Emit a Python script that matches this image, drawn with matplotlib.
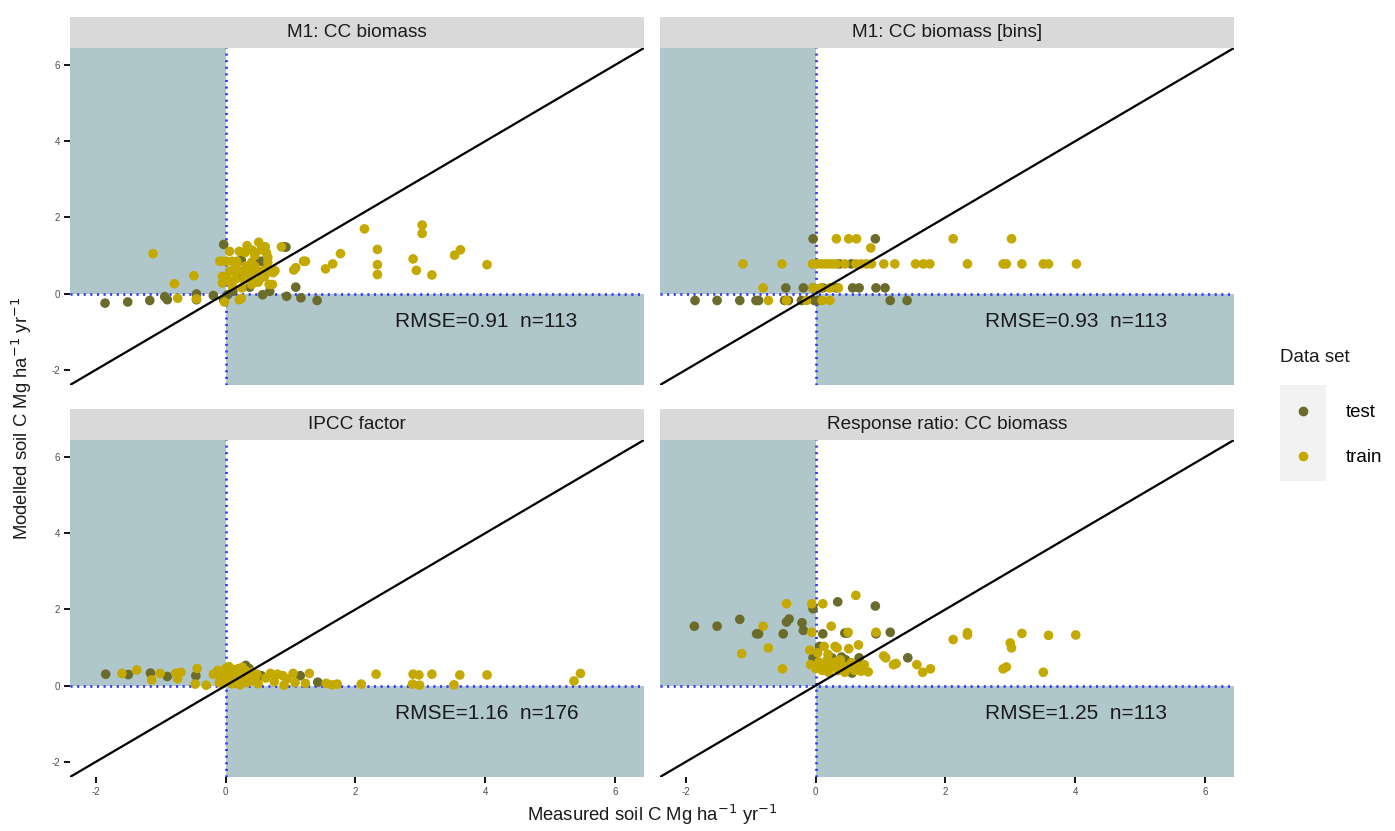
import matplotlib
matplotlib.use("Agg")
import matplotlib.pyplot as plt
from matplotlib.patches import Rectangle
from matplotlib.lines import Line2D

plt.rcParams['font.family'] = ['Liberation Sans', 'DejaVu Sans']
plt.rcParams['axes.unicode_minus'] = False

# ---- data -------------------------------------------------------------
titles = ["M1: CC biomass", "M1: CC biomass [bins]",
          "IPCC factor", "Response ratio: CC biomass"]
stats = ["RMSE=0.91  n=113", "RMSE=0.93  n=113",
         "RMSE=1.16  n=176", "RMSE=1.25  n=113"]

# M1: CC biomass
p1_test = [(-1.86, -0.25), (-1.51, -0.22), (-1.17, -0.18), (-0.90, -0.16), (-0.94, -0.08),
           (-0.45, -0.01), (-0.45, -0.16), (-0.19, -0.05), (-0.03, 1.29), (-0.03, -0.16),
           (0.11, 0.06), (0.03, -0.03), (0.24, 0.88), (0.50, 0.85), (0.56, 0.85),
           (0.93, 1.22), (0.57, -0.03), (0.68, 0.06), (0.94, -0.07), (1.08, 0.17),
           (1.16, -0.11), (1.41, -0.18), (0.27, 0.40), (0.37, 0.17), (0.90, 1.23), (0.35, 0.60)]
p1_train = [(-1.12, 1.05), (-0.79, 0.26), (-0.49, 0.47), (-0.74, -0.12), (-0.45, -0.14),
            (0.24, -0.13), (-0.02, -0.22), (0.21, -0.16),
            (2.14, 1.70), (3.03, 1.80), (3.03, 1.58), (2.34, 1.16), (2.34, 0.76), (2.34, 0.50),
            (2.89, 0.91), (2.94, 0.61), (3.18, 0.49), (3.53, 1.01), (3.62, 1.15), (4.03, 0.76),
            (1.77, 1.05), (1.65, 0.78), (1.54, 0.65), (1.23, 0.85), (1.20, 0.85), (1.05, 0.62),
            (1.08, 0.68), (0.76, 0.60), (0.72, 0.24), (0.67, 0.24), (0.73, 0.55),
            (0.06, 1.11), (0.21, 1.11), (0.33, 1.26), (0.41, 1.14), (0.51, 1.35), (0.61, 1.23),
            (0.63, 1.07), (0.86, 1.23), (0.30, 1.08), (0.45, 1.00),
            (-0.09, 0.85), (-0.05, 0.85), (0.02, 0.85), (0.10, 0.85), (0.17, 0.85), (0.65, 0.82),
            (0.40, 0.82), (0.06, 0.59), (0.13, 0.59), (0.20, 0.59), (0.28, 0.59), (0.36, 0.59),
            (0.44, 0.59), (0.52, 0.59), (0.60, 0.62), (-0.05, 0.45), (0.03, 0.38), (0.15, 0.38),
            (0.28, 0.38), (0.40, 0.38), (0.55, 0.42), (0.40, 0.24), (0.25, 0.15), (0.10, 0.20),
            (-0.05, 0.28), (0.60, 0.45), (0.50, 0.30), (0.65, 0.95), (0.55, 1.15), (0.15, 0.70),
            (0.30, 0.72), (0.45, 0.72)]

# M1: CC biomass [bins]
p2_test = [(-0.04, 1.44), (0.92, 1.44), (0.37, 0.78), (0.55, 0.78),
           (-0.46, 0.15), (-0.19, 0.15), (-0.04, 0.15), (0.11, 0.15), (0.32, 0.15), (0.57, 0.15),
           (0.67, 0.15), (0.93, 0.15), (1.07, 0.15),
           (-1.86, -0.18), (-1.52, -0.18), (-1.17, -0.18), (-0.92, -0.18), (-0.88, -0.18),
           (-0.48, -0.18), (-0.42, -0.18), (-0.22, -0.18), (-0.02, -0.18), (0.03, -0.18),
           (1.15, -0.18), (1.41, -0.18)]
p2_train = [(0.32, 1.44), (0.51, 1.44), (0.63, 1.44), (2.12, 1.44), (3.02, 1.44), (0.85, 1.20),
            (-1.12, 0.78), (-0.52, 0.78), (-0.05, 0.78), (0.02, 0.78), (0.08, 0.78), (0.14, 0.78),
            (0.20, 0.78), (0.26, 0.78), (0.32, 0.78), (0.45, 0.78), (0.62, 0.78), (0.70, 0.78),
            (0.78, 0.78), (0.86, 0.78), (1.05, 0.78), (1.22, 0.78), (1.54, 0.78), (1.66, 0.78),
            (1.76, 0.78), (2.34, 0.78), (2.89, 0.78), (2.94, 0.78), (3.18, 0.78), (3.51, 0.78),
            (3.59, 0.78), (4.02, 0.78),
            (-0.81, 0.15), (-0.04, 0.15), (0.08, 0.15), (0.22, 0.15), (0.35, 0.15),
            (-0.73, -0.18), (-0.45, -0.18), (-0.14, -0.18), (0.10, -0.18), (0.22, -0.18)]

# IPCC factor
p3_test = [(-1.85, 0.30), (-1.50, 0.29), (-1.16, 0.33), (-0.90, 0.24), (-0.46, 0.26),
           (0.31, 0.53), (0.36, 0.45), (0.55, 0.26), (1.15, 0.26), (1.42, 0.09),
           (0.10, 0.20), (0.20, 0.35), (-0.05, 0.15)]
p3_train = [(-1.60, 0.32), (-1.37, 0.41), (-1.14, 0.15), (-1.01, 0.32), (-0.77, 0.32),
            (-0.69, 0.35), (-0.74, 0.18), (-0.44, 0.45), (-0.47, 0.04), (-0.30, 0.01),
            (-0.19, 0.30), (-0.12, 0.40), (-0.08, 0.20), (-0.05, 0.05), (0.00, 0.45),
            (0.00, 0.30), (0.02, 0.12), (0.05, 0.50), (0.06, 0.35), (0.08, 0.22), (0.10, 0.05),
            (0.12, 0.42), (0.15, 0.28), (0.18, 0.12), (0.20, 0.45), (0.22, 0.02), (0.25, 0.30),
            (0.28, 0.18), (0.30, 0.40), (0.33, 0.08), (0.36, 0.25), (0.40, 0.35), (0.42, 0.12),
            (0.45, 0.20), (0.48, 0.30), (0.50, 0.05), (-0.10, 0.08), (0.14, 0.35), (0.26, 0.48),
            (0.69, 0.32), (0.88, 0.26), (0.90, 0.01), (1.04, 0.32), (1.07, 0.08), (1.23, 0.06),
            (1.29, 0.32), (1.55, 0.06), (1.64, 0.02), (1.72, 0.04), (2.09, 0.04), (2.32, 0.30),
            (2.89, 0.30), (2.98, 0.28), (2.88, 0.04), (2.99, 0.01), (3.18, 0.30), (3.52, 0.02),
            (3.61, 0.28), (4.03, 0.28), (5.37, 0.12), (5.47, 0.32), (0.62, 0.20), (0.75, 0.10),
            (0.95, 0.18), (0.80, 0.30)]

# Response ratio: CC biomass
p4_test = [(-1.87, 1.56), (-1.52, 1.56), (-1.17, 1.74), (-0.91, 1.36), (-0.88, 1.36),
           (-0.50, 1.36), (-0.45, 1.67), (-0.41, 1.75), (-0.21, 1.65), (-0.19, 1.45),
           (-0.04, 2.02), (0.34, 2.20), (0.92, 2.09), (0.11, 1.36), (0.45, 1.38), (0.49, 1.38),
           (0.93, 1.36), (1.15, 1.40), (0.06, 1.03), (-0.04, 0.73), (0.25, 0.73), (0.40, 0.75),
           (0.46, 0.68), (1.42, 0.73), (0.56, 0.33), (0.67, 0.73)]
p4_train = [(-0.45, 2.15), (-0.06, 2.15), (0.11, 2.15), (0.62, 2.37), (-0.81, 1.56),
            (0.24, 1.56), (-0.06, 1.40), (0.50, 1.40), (0.93, 1.40), (-1.14, 0.84),
            (-0.73, 0.99), (-0.51, 0.44), (-0.09, 0.93), (0.13, 1.03), (0.30, 1.03),
            (0.33, 0.99), (0.51, 0.97), (0.66, 1.07), (0.03, 0.86), (0.19, 0.82),
            (-0.08, 0.55), (0.00, 0.45), (0.05, 0.62), (0.10, 0.40), (0.15, 0.55), (0.20, 0.35),
            (0.25, 0.50), (0.30, 0.62), (0.35, 0.40), (0.40, 0.55), (0.45, 0.35), (0.50, 0.48),
            (0.55, 0.60), (0.60, 0.40), (0.65, 0.50), (0.70, 0.38), (0.75, 0.55), (0.81, 0.36),
            (0.18, 0.68), (0.38, 0.68),
            (1.05, 0.78), (1.08, 0.73), (1.20, 0.55), (1.24, 0.58), (1.56, 0.55), (1.65, 0.35),
            (1.77, 0.44), (2.12, 1.21), (2.34, 1.39), (2.34, 1.33), (2.89, 0.44), (2.94, 0.49),
            (3.00, 1.12), (3.02, 0.99), (3.18, 1.37), (3.51, 0.35), (3.59, 1.32), (4.01, 1.33)]

panel_data = [(p1_test, p1_train), (p2_test, p2_train),
              (p3_test, p3_train), (p4_test, p4_train)]

# ---- style --------------------------------------------------------------
test_col = "#6B6B2B"
train_col = "#C4A900"
shade_col = "#AFC7CB"
dot_col = "#3030FF"
strip_col = "#D9D9D9"
lims = (-2.4, 6.45)

W, H = 1395, 831
fig = plt.figure(figsize=(W / 100, H / 100), dpi=100)

# panel boxes in pixels: left, top; all the same size
boxes = [(70, 48), (660, 48), (70, 440), (660, 440)]
pw, ph = 574, 337
strip_h = 31

for i, ((test, train), (px, py)) in enumerate(zip(panel_data, boxes)):
    ax = fig.add_axes([px / W, (H - py - ph) / H, pw / W, ph / H])
    ax.set_xlim(lims)
    ax.set_ylim(lims)

    ax.add_patch(Rectangle((-20, 0), 20, 40, facecolor=shade_col, edgecolor="none", zorder=0))
    ax.add_patch(Rectangle((0, -20), 40, 20, facecolor=shade_col, edgecolor="none", zorder=0))
    ax.axvline(0, color=dot_col, lw=1.9, ls=(0, (0.8, 1.7)), zorder=1)
    ax.axhline(0, color=dot_col, lw=1.9, ls=(0, (0.8, 1.7)), zorder=1)

    ax.scatter([p[0] for p in test], [p[1] for p in test], s=48, color=test_col,
               edgecolors="none", zorder=3)
    ax.scatter([p[0] for p in train], [p[1] for p in train], s=48, color=train_col,
               edgecolors="none", zorder=3)

    ax.axline((0, 0), slope=1, color="black", lw=1.6, zorder=4)

    ax.text(4.02, -0.74, stats[i], fontsize=15, ha="center", va="center",
            color="#1A1A1A", zorder=5)

    # facet strip
    ax.add_patch(Rectangle((0, 1), 1, strip_h / ph, transform=ax.transAxes,
                           facecolor=strip_col, edgecolor="none", clip_on=False))
    ax.text(0.5, 1 + strip_h / ph / 2, titles[i], transform=ax.transAxes,
            ha="center", va="center", fontsize=13.7, color="#1A1A1A")

    for s in ax.spines.values():
        s.set_visible(False)
    ax.set_xticks([-2, 0, 2, 4, 6])
    ax.set_yticks([-2, 0, 2, 4, 6])
    ax.tick_params(length=4, width=1.3, color="black", labelsize=7,
                   labelcolor="#4D4D4D", pad=3)
    if i % 2 == 1:
        ax.tick_params(left=False, labelleft=False)
    if i < 2:
        ax.tick_params(bottom=False, labelbottom=False)

fig.text(652 / W, 1 - 815 / H, "Measured soil C Mg ha$^{-1}$ yr$^{-1}$",
         ha="center", va="center", fontsize=13.3, color="#1A1A1A")
fig.text(22 / W, 1 - 418 / H, "Modelled soil C Mg ha$^{-1}$ yr$^{-1}$",
         ha="center", va="center", rotation=90, fontsize=13.3, color="#1A1A1A")

# legend: title as plain text, keys on a light grey strip
fig.text(1280 / W, 1 - 357 / H, "Data set", ha="left", va="center",
         fontsize=13.5, color="#1A1A1A")
fig.patches.append(Rectangle((1280 / W, 1 - 481 / H), 46 / W, 96 / H,
                             transform=fig.transFigure, facecolor="#F2F2F2",
                             edgecolor="none", zorder=0))
handles = [Line2D([], [], marker="o", ls="", color=test_col, markersize=6),
           Line2D([], [], marker="o", ls="", color=train_col, markersize=6)]
fig.legend(handles, ["test", "train"], loc="upper left",
           bbox_to_anchor=(1280 / W, 1 - 404 / H), frameon=False, fontsize=13.5,
           handlelength=2.45, handletextpad=1.05, labelspacing=1.5,
           borderpad=0, borderaxespad=0)

fig.savefig("out.png", dpi=100)
